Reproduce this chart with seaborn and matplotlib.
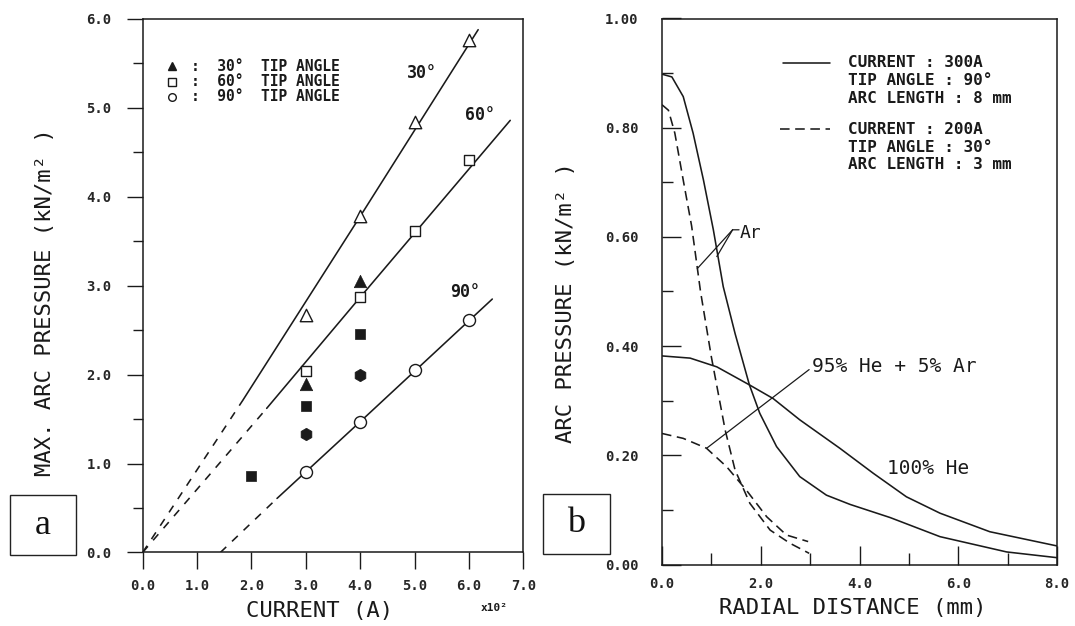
import numpy as np
import pandas as pd
import matplotlib
matplotlib.use("Agg")
import matplotlib.pyplot as plt
import seaborn as sns
from matplotlib.patches import Rectangle
from matplotlib.ticker import MultipleLocator, FormatStrFormatter

# ---------------- data: panel a ----------------
current_open = [3.0, 4.0, 5.0, 6.0]
p_open_30 = [2.67, 3.78, 4.84, 5.76]
p_open_60 = [2.04, 2.87, 3.62, 4.41]
p_open_90 = [0.91, 1.47, 2.05, 2.61]

current_tri_f = [3.0, 4.0]
p_tri_f = [1.89, 3.05]
current_sq_f = [2.0, 3.0, 4.0]
p_sq_f = [0.86, 1.65, 2.46]
current_hex_f = [3.0, 4.0]
p_hex_f = [1.33, 2.00]

fit30_x = [1.84, 4.0, 6.17]
fit30_y = [1.71, 3.78, 5.88]
ext30_x = [0.0, 1.84]
ext30_y = [0.0, 1.71]
fit60_x = [2.28, 4.0, 6.76]
fit60_y = [1.62, 2.87, 4.86]
ext60_x = [0.0, 2.28]
ext60_y = [0.0, 1.62]
fit90_x = [2.47, 4.0, 6.43]
fit90_y = [0.607, 1.47, 2.85]
ext90_x = [1.43, 2.47]
ext90_y = [0.0, 0.607]

legend_a = ["30°  TIP ANGLE", "60°  TIP ANGLE", "90°  TIP ANGLE"]

# ---------------- data: panel b ----------------
ar_solid_x = [0.0, 0.2, 0.43, 0.63, 0.84, 1.04, 1.24, 1.48, 1.77, 1.98, 2.32, 2.79,
              3.33, 3.81, 4.62, 5.63, 6.98, 8.0]
ar_solid_y = [0.898, 0.893, 0.857, 0.79, 0.704, 0.613, 0.509, 0.423, 0.329, 0.277,
              0.216, 0.161, 0.127, 0.110, 0.086, 0.051, 0.023, 0.0125]
he_solid_x = [0.0, 0.57, 1.11, 1.77, 2.25, 2.79, 3.60, 4.28, 4.95, 5.63, 6.64, 8.0]
he_solid_y = [0.382, 0.378, 0.362, 0.329, 0.304, 0.265, 0.213, 0.167, 0.124, 0.094,
              0.060, 0.034]
ar_dash_x = [0.0, 0.13, 0.26, 0.43, 0.60, 0.78, 1.0, 1.28, 1.48, 1.78, 2.19, 2.59, 2.98]
ar_dash_y = [0.842, 0.832, 0.79, 0.704, 0.62, 0.50, 0.38, 0.246, 0.173, 0.112, 0.063,
             0.039, 0.0205]
he_dash_x = [0.0, 0.43, 0.90, 1.31, 1.71, 2.12, 2.52, 2.96]
he_dash_y = [0.240, 0.231, 0.213, 0.179, 0.136, 0.0875, 0.054, 0.042]

legend_b_solid = ["CURRENT : 300A", "TIP ANGLE : 90°", "ARC LENGTH : 8 mm"]
legend_b_dash = ["CURRENT : 200A", "TIP ANGLE : 30°", "ARC LENGTH : 3 mm"]

# ---------------- style ----------------
sns.set_theme(style="white")
plt.rcParams["font.family"] = ["DejaVu Sans Mono", "DejaVu Sans"]
plt.rcParams["axes.linewidth"] = 1.1
plt.rcParams["axes.edgecolor"] = "#1a1a1a"

INK = "#1a1a1a"
LW = 1.15
DASH_A = (0, (5, 5))
DASH_B = (0, (6, 3.5))

W, H = 1075, 626
fig = plt.figure(figsize=(W / 100, H / 100), dpi=100)
fig.patch.set_facecolor("white")

axL = fig.add_axes([142.7 / W, 1 - 552.4 / H, (523.3 - 142.7) / W, (552.4 - 19) / H])
axR = fig.add_axes([662 / W, 1 - 564.5 / H, (1057 - 662) / W, (564.5 - 18.5) / H])

# ---------------- panel a ----------------
for fx, fy, ex, ey in [(fit30_x, fit30_y, ext30_x, ext30_y),
                       (fit60_x, fit60_y, ext60_x, ext60_y),
                       (fit90_x, fit90_y, ext90_x, ext90_y)]:
    sns.lineplot(x=fx, y=fy, ax=axL, color=INK, lw=LW, sort=False)
    sns.lineplot(x=ex, y=ey, ax=axL, color=INK, lw=LW, linestyle=DASH_A, sort=False)

sns.scatterplot(x=current_open, y=p_open_30, ax=axL, marker="^", s=80,
                color="white", edgecolor=INK, linewidth=1.0, zorder=5)
sns.scatterplot(x=current_open, y=p_open_60, ax=axL, marker="s", s=60,
                color="white", edgecolor=INK, linewidth=1.0, zorder=5)
sns.scatterplot(x=current_open, y=p_open_90, ax=axL, marker="o", s=75,
                color="white", edgecolor=INK, linewidth=1.0, zorder=5)
sns.scatterplot(x=current_tri_f, y=p_tri_f, ax=axL, marker="^", s=80,
                color=INK, edgecolor=INK, linewidth=0.5, zorder=6)
sns.scatterplot(x=current_sq_f, y=p_sq_f, ax=axL, marker="s", s=60,
                color=INK, edgecolor=INK, linewidth=0.5, zorder=6)
sns.scatterplot(x=current_hex_f, y=p_hex_f, ax=axL, marker="h", s=80,
                color=INK, edgecolor=INK, linewidth=0.5, zorder=6)

axL.set_xlim(0, 7)
axL.set_ylim(0, 6)
axL.xaxis.set_major_locator(MultipleLocator(1))
axL.xaxis.set_major_formatter(FormatStrFormatter("%.1f"))
axL.yaxis.set_major_locator(MultipleLocator(1))
axL.yaxis.set_minor_locator(MultipleLocator(0.5))
axL.yaxis.set_major_formatter(FormatStrFormatter("%.1f"))
axL.tick_params(axis="x", which="major", direction="out", length=12, width=1,
                pad=7, labelsize=10, bottom=True, color=INK)
axL.tick_params(axis="y", which="major", direction="out", length=11.5, width=1,
                pad=11, labelsize=10, left=True, color=INK)
axL.tick_params(axis="y", which="minor", direction="out", length=7, width=1,
                left=True, color=INK)
plt.setp(axL.get_xticklabels() + axL.get_yticklabels(), fontweight="bold")

axL.set_xlabel("CURRENT (A)", fontsize=16, va="center", color=INK)
axL.xaxis.set_label_coords((320 - 142.7) / 380.6, -(611 - 552.4) / 533.4)
axL.set_ylabel("MAX. ARC PRESSURE (kN/m² )", fontsize=16, va="center", color=INK)
axL.yaxis.set_label_coords(-(142.7 - 45) / 380.6, (552.4 - 302) / 533.4)

# curve labels
axL.text(4.86, 5.39, "30°", fontsize=12, fontweight="bold", color=INK, va="center")
axL.text(5.93, 4.92, "60°", fontsize=12, fontweight="bold", color=INK, va="center")
axL.text(5.65, 2.93, "90°", fontsize=12, fontweight="bold", color=INK, va="center")

# legend (panel a)
leg_rows = [0.911, 0.882, 0.854]
leg_markers = [dict(marker="^", mfc=INK), dict(marker="s", mfc="white"),
               dict(marker="o", mfc="white")]
for yy, mk, txt in zip(leg_rows, leg_markers, legend_a):
    axL.plot([0.076], [yy], transform=axL.transAxes, ls="none", ms=5.5,
             mec=INK, mew=1.0, **mk)
    axL.text(0.127, yy, ":  " + txt, transform=axL.transAxes, fontsize=10.5,
             fontweight="bold", va="center", color=INK)

fig.text(494 / W, 1 - 608 / H, "x10²", fontsize=8, fontweight="bold",
         ha="center", va="center", color=INK)

# ---------------- panel b ----------------
sns.lineplot(x=ar_solid_x, y=ar_solid_y, ax=axR, color=INK, lw=LW, sort=False)
sns.lineplot(x=he_solid_x, y=he_solid_y, ax=axR, color=INK, lw=LW, sort=False)
sns.lineplot(x=ar_dash_x, y=ar_dash_y, ax=axR, color=INK, lw=LW, linestyle=DASH_B, sort=False)
sns.lineplot(x=he_dash_x, y=he_dash_y, ax=axR, color=INK, lw=LW, linestyle=DASH_B, sort=False)

axR.set_xlim(0, 8)
axR.set_ylim(0, 1)
axR.xaxis.set_major_locator(MultipleLocator(2))
axR.xaxis.set_minor_locator(MultipleLocator(1))
axR.xaxis.set_major_formatter(FormatStrFormatter("%.1f"))
axR.yaxis.set_major_locator(MultipleLocator(0.2))
axR.yaxis.set_minor_locator(MultipleLocator(0.1))
axR.yaxis.set_major_formatter(FormatStrFormatter("%.2f"))
axR.tick_params(axis="x", which="major", direction="in", length=14, width=1,
                pad=9, labelsize=10, bottom=True, color=INK)
axR.tick_params(axis="x", which="minor", direction="in", length=8.5, width=1,
                bottom=True, color=INK)
axR.tick_params(axis="y", which="major", direction="in", length=14, width=1,
                pad=17, labelsize=10, left=True, color=INK)
axR.tick_params(axis="y", which="minor", direction="in", length=7.7, width=1,
                left=True, color=INK)
plt.setp(axR.get_xticklabels() + axR.get_yticklabels(), fontweight="bold")

axR.set_xlabel("RADIAL DISTANCE (mm)", fontsize=16, va="center", color=INK)
axR.xaxis.set_label_coords((853 - 662) / 395, -(608 - 564.5) / 546)
axR.set_ylabel("ARC PRESSURE (kN/m² )", fontsize=16, va="center", color=INK)
axR.yaxis.set_label_coords(-(662 - 566) / 395, (564.5 - 303) / 546)

# legend (panel b)
axR.plot([2.46, 3.40], [0.918, 0.918], color=INK, lw=LW)
axR.plot([2.39, 3.40], [0.797, 0.797], color=INK, lw=LW, ls=DASH_B)
for yy, txt in zip([0.919, 0.887, 0.854], legend_b_solid):
    axR.text(3.77, yy, txt, fontsize=11.5, fontweight="bold", va="center", color=INK)
for yy, txt in zip([0.797, 0.764, 0.732], legend_b_dash):
    axR.text(3.77, yy, txt, fontsize=11.5, fontweight="bold", va="center", color=INK)

# annotations
arrow = dict(arrowstyle="-", color=INK, lw=0.9, shrinkA=0, shrinkB=0)
axR.annotate("", xy=(0.715, 0.542), xytext=(1.43, 0.613), arrowprops=arrow)
axR.annotate("", xy=(1.11, 0.564), xytext=(1.43, 0.613), arrowprops=arrow)
axR.annotate("", xy=(1.56, 0.613), xytext=(1.43, 0.613), arrowprops=arrow)
axR.text(1.58, 0.608, "Ar", fontsize=13, va="center", color=INK)
axR.annotate("", xy=(0.905, 0.213), xytext=(2.98, 0.357), arrowprops=arrow)
axR.text(3.04, 0.362, "95% He + 5% Ar", fontsize=14, va="center", color=INK)
axR.text(4.55, 0.176, "100% He", fontsize=14, va="center", color=INK)

# ---------------- panel tags ----------------
for (x0, x1, y0, y1, lab) in [(10, 76, 495, 555, "a"), (543, 610, 494, 554, "b")]:
    fig.patches.append(Rectangle((x0 / W, 1 - y1 / H), (x1 - x0) / W, (y1 - y0) / H,
                                 transform=fig.transFigure, fill=True, facecolor="white",
                                 edgecolor="#222222", lw=1.0, zorder=10))
    fig.text((x0 + x1) / 2 / W, 1 - (y0 + y1) / 2 / H, lab, fontsize=26,
             family="Liberation Serif", ha="center", va="center", color="#111111",
             zorder=11)

fig.savefig("out.png", dpi=100, facecolor="white")
